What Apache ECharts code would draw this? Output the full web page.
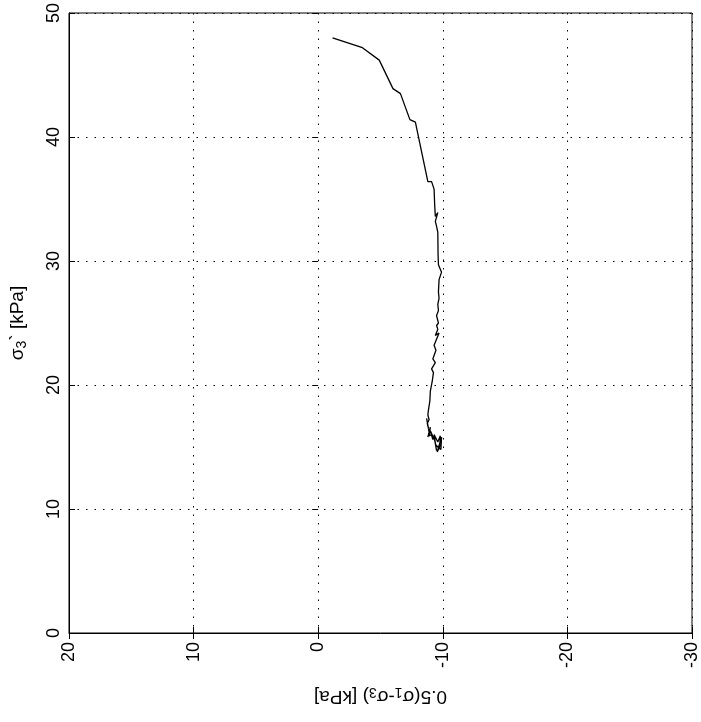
<!DOCTYPE html>
<html>
<head>
<meta charset="utf-8">
<script src="https://cdn.jsdelivr.net/npm/echarts@6/dist/echarts.min.js"></script>
<style>html,body{margin:0;padding:0;background:#fff;}#c{width:701px;height:722px;}</style>
</head>
<body>
<div id="c"></div>
<script>
// x: 0.5(s1-s3) [kPa], y: s3' [kPa]
const pathX = [-1.15,-3.55,-4.9,-6.0,-6.6,-7.36,-7.8,-8.8,-9.1,-9.3,-9.35,-9.4,-9.6,-9.4,-9.5,-9.6,-9.62,-9.65,-9.9,-9.7,-9.65,-9.7,-9.6,-9.65,-9.5,-9.65,-9.5,-9.6,-9.4,-9.7,-9.3,-9.45,-9.2,-9.4,-9.1,-9.25,-9.15,-9.0,-8.96,-8.85,-8.8,-8.9,-8.75,-8.85,-8.7,-8.9,-8.8,-9.0,-8.9,-9.1,-9.2,-9.0,-9.36,-9.5,-9.3,-9.6,-9.8,-9.75,-9.55,-9.9,-9.85,-9.4,-9.7];
const pathY = [48.0,47.2,46.2,43.9,43.5,41.4,41.2,36.4,36.4,35.8,34.5,33.6,33.9,33.2,32.8,32.3,30.5,29.7,29.1,28.5,27.5,27.0,26.5,26.0,25.6,25.0,24.8,24.5,24.0,24.2,23.2,22.8,22.1,21.8,21.3,21.0,20.3,19.5,18.7,18.0,17.6,17.2,16.9,16.5,17.3,16.2,15.8,16.6,15.9,16.0,15.6,16.3,15.5,14.7,16.0,15.4,15.9,15.0,14.6,15.8,14.8,15.2,14.9];
const xTicks = [-30,-20,-10,0,10,20];
const yTicks = [0,10,20,30,40,50];

const FONT = 'Liberation Sans';
const data = pathX.map((x,i)=>[x,pathY[i]]);
const chart = echarts.init(document.getElementById('c'), null, {renderer:'canvas'});
const gridLine = {show:true, lineStyle:{color:'#000', type:[1.5,7], width:1}};
const tick = {show:true, inside:true, length:6, lineStyle:{color:'#000', width:1}};
chart.setOption({
  animation:false,
  backgroundColor:'#fff',
  grid:{left:68, top:9, right:8, bottom:89, show:true, borderColor:'#000', borderWidth:1},
  xAxis:[{
    type:'value', min:-30, max:20, interval:10, inverse:true,
    axisLine:{show:true, onZero:false, lineStyle:{color:'#000', width:1}},
    axisTick:tick, splitLine:gridLine,
    axisLabel:{rotate:90, fontFamily:FONT, fontSize:18, color:'#000', margin:9,
      formatter:v=>xTicks.includes(v)?String(v):''},
    name:'0.5(σ{sub|1}-σ{sub|3}) [kPa]', nameLocation:'middle', nameGap:52, nameRotate:180,
    nameTextStyle:{fontFamily:FONT, fontSize:19, color:'#000',
      rich:{sub:{fontFamily:FONT, fontSize:14, verticalAlign:'bottom', padding:[9,0,0,0]}}}
  },{
    type:'value', min:-30, max:20, interval:10, inverse:true, position:'top',
    axisLine:{show:false}, axisTick:tick, axisLabel:{show:false}, splitLine:{show:false}
  }],
  yAxis:[{
    type:'value', min:0, max:50, interval:10,
    axisLine:{show:true, onZero:false, lineStyle:{color:'#000', width:1}},
    axisTick:tick, splitLine:gridLine,
    axisLabel:{rotate:90, fontFamily:FONT, fontSize:18, color:'#000', margin:6,
      formatter:v=>yTicks.includes(v)?String(v):''},
    name:'σ{sub|3}` [kPa]', nameLocation:'middle', nameGap:40, nameRotate:90,
    nameTextStyle:{fontFamily:FONT, fontSize:19, color:'#000',
      rich:{sub:{fontFamily:FONT, fontSize:14, verticalAlign:'bottom', padding:[9,0,0,0]}}}
  },{
    type:'value', min:0, max:50, interval:10, position:'right',
    axisLine:{show:false}, axisTick:tick, axisLabel:{show:false}, splitLine:{show:false}
  }],
  series:[{
    type:'line', data:data, showSymbol:false, symbol:'none',
    lineStyle:{color:'#000', width:1.3}, xAxisIndex:0, yAxisIndex:0
  }]
});
</script>
</body>
</html>
